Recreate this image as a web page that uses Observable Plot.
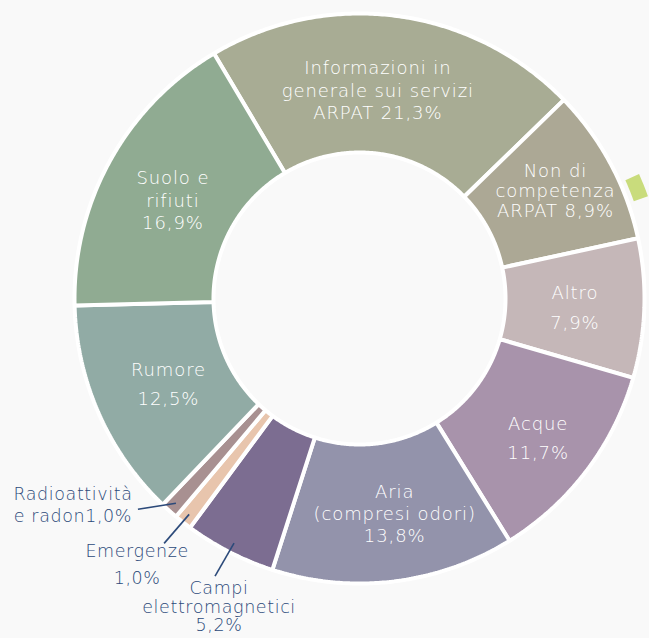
<!DOCTYPE html>
<html>
<head>
<meta charset="utf-8">
<script src="https://cdn.jsdelivr.net/npm/d3@7"></script>
<script src="https://cdn.jsdelivr.net/npm/@observablehq/plot@0.6"></script>
<style>
  html, body { margin: 0; padding: 0; background: #f9f9f9; }
  #chart svg { display: block; background: #f9f9f9; }
  #chart svg .inside text { letter-spacing: 0.9px; }
  #chart svg .outside text { letter-spacing: 0.6px; }
</style>
</head>
<body>
<div id="chart"></div>
<script>
// ---- data ----
const categories = [
  "Informazioni in generale sui servizi ARPAT",
  "Non di competenza ARPAT",
  "Altro",
  "Acque",
  "Aria (compresi odori)",
  "Campi elettromagnetici",
  "Emergenze",
  "Radioattività e radon",
  "Rumore",
  "Suolo e rifiuti"
];
const values = [21.3, 8.9, 7.9, 11.7, 13.8, 5.2, 1.0, 1.0, 12.5, 16.9];
const valueLabels = ["21,3%", "8,9%", "7,9%", "11,7%", "13,8%", "5,2%", "1,0%", "1,0%", "12,5%", "16,9%"];
const labelLines = [
  ["Informazioni in", "generale sui servizi", "ARPAT " + valueLabels[0]],
  ["Non di", "competenza", "ARPAT " + valueLabels[1]],
  ["Altro", valueLabels[2]],
  ["Acque", valueLabels[3]],
  ["Aria", "(compresi odori)", valueLabels[4]],
  ["Campi", "elettromagnetici", valueLabels[5]],
  ["Emergenze", "", valueLabels[6]],
  ["Radioattività", "e radon" + valueLabels[7]],
  ["Rumore", valueLabels[8]],
  ["Suolo e", "rifiuti", valueLabels[9]]
];
const outside = [false, false, false, false, false, true, true, true, false, false];

// ---- style / layout ----
const colors = ["#a8ac94", "#aca895", "#c5b7b8", "#a893ab", "#9393ab", "#7c6d91", "#e8c5ad", "#a89091", "#91aba5", "#90ab92"];
const W = 649, H = 638;
const cx = 359, cy = 298, R = 285, r0 = 146;
const startDeg = -30.7;
const insideFont = 18, outsideFont = 17.5;
// inside label: [dx, dy, lineHeight] relative to arc centroid
const insideLayout = [[-10, 6, 22.5], [6, -5, 20], [0, 2, 30], [7, 10, 29], [9, 2, 22], null, null, null, [6, -1, 29], [2, 7, 22.5]];
// outside labels: leader end offset from slice point, text block offset from leader end, line height
const outsideLayout = {
  5: {leader: [-19, 33], text: [4, 31], lh: 18.5},
  6: {leader: [-25, 29], text: [-27, 21.5], lh: 13.5},
  7: {leader: [-38, 6], text: [-65, -4], lh: 22}
};
// small detached sliver on the right edge
const sliver = {a0: 66, a1: 70.5, rIn: 291, rOut: 306, color: "#c9dc7c"};

// ---- geometry ----
const rad = d => d * Math.PI / 180;
const pie = d3.pie().sort(null).value(d => d).startAngle(rad(startDeg)).endAngle(rad(startDeg) + 2 * Math.PI);
const arcs = pie(values);
const pt = (a, r) => [cx + r * Math.sin(a), cy - r * Math.cos(a)];
function ring(a0, a1, ri, ro) {
  const n = Math.max(4, Math.ceil((a1 - a0) / rad(0.5)));
  const outer = d3.range(n + 1).map(i => pt(a0 + (a1 - a0) * i / n, ro));
  const inner = d3.range(n + 1).map(i => pt(a1 - (a1 - a0) * i / n, ri));
  const coords = outer.concat(inner);
  coords.push(coords[0]);
  return coords;
}
const slices = arcs.map((a, i) => ({
  type: "Feature",
  properties: {name: categories[i], color: colors[i]},
  geometry: {type: "Polygon", coordinates: [ring(a.startAngle, a.endAngle, r0, R)]}
}));
const sliverGeo = {type: "Feature", properties: {}, geometry: {type: "Polygon", coordinates: [ring(rad(sliver.a0), rad(sliver.a1), sliver.rIn, sliver.rOut)]}};

const insideText = [];
const outsideText = [];
const leaders = [];
arcs.forEach((a, i) => {
  const mid = (a.startAngle + a.endAngle) / 2;
  if (!outside[i]) {
    const [c0x, c0y] = pt(mid, (r0 + R) / 2);
    const [dx, dy, lh] = insideLayout[i];
    const lines = labelLines[i];
    lines.forEach((t, k) => insideText.push({x: c0x + dx, y: c0y + dy + (k - (lines.length - 1) / 2) * lh, text: t}));
  } else {
    const L = outsideLayout[i];
    const [sx, sy] = pt(mid, 275);
    const ex = sx + L.leader[0], ey = sy + L.leader[1];
    leaders.push({x1: sx, y1: sy, x2: ex, y2: ey});
    const nl = labelLines[i].length;
    labelLines[i].forEach((t, k) => {
      if (t === "") return;
      outsideText.push({x: ex + L.text[0], y: ey + L.text[1] + (k - (nl - 1) / 2) * L.lh, text: t});
    });
  }
});

const font = "'DejaVu Sans', sans-serif";
const chart = Plot.plot({
  width: W,
  height: H,
  margin: 0,
  projection: {type: "identity"},
  style: {background: "#f9f9f9", fontFamily: font},
  marks: [
    Plot.geo(slices, {fill: d => d.properties.color, stroke: "white", strokeWidth: 4, strokeLinejoin: "miter"}),
    Plot.geo([sliverGeo], {fill: sliver.color}),
    Plot.text(insideText, {x: "x", y: "y", text: "text", fill: "white", fontSize: insideFont, fontWeight: 300, textAnchor: "middle", className: "inside"}),
    Plot.link(leaders, {x1: "x1", y1: "y1", x2: "x2", y2: "y2", stroke: "#2c4a7a", strokeWidth: 1.6}),
    Plot.text(outsideText, {x: "x", y: "y", text: "text", fill: "#2c4a7a", fontSize: outsideFont, fontWeight: 300, textAnchor: "middle", className: "outside"})
  ]
});
document.getElementById("chart").appendChild(chart);
</script>
</body>
</html>
